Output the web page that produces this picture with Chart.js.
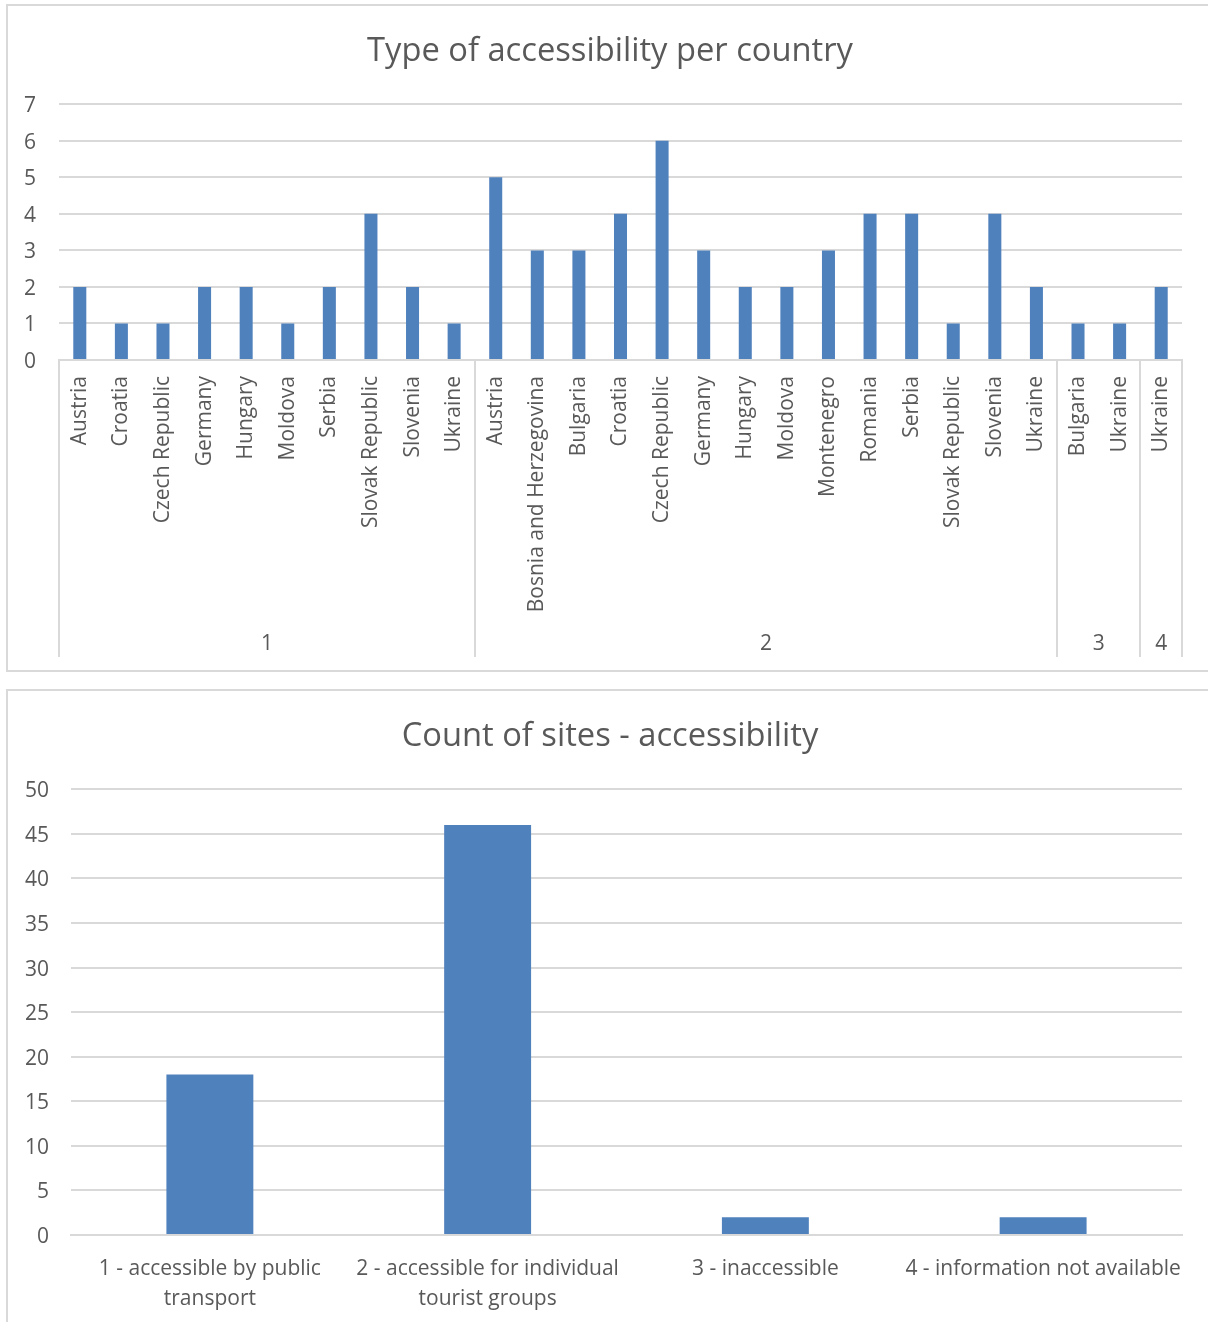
<!DOCTYPE html>
<html>
<head>
<meta charset="utf-8">
<title>Accessibility of sites</title>
<script src="https://cdn.jsdelivr.net/npm/chart.js@4"></script>
<style>
  html, body { margin: 0; padding: 0; background: #ffffff; overflow: hidden; }
  body { width: 1208px; height: 1322px; position: relative; }
  .frame { position: absolute; box-sizing: border-box; border: 2px solid #d9d9d9; background: #ffffff; }
  #frameTop { left: 6px; top: 4px; width: 1230px; height: 668px; }
  #frameBottom { left: 6px; top: 689px; width: 1230px; height: 700px; }
  canvas { position: absolute; left: 0; }
  #typeChart { top: 0; }
  #countChart { top: 680px; }
</style>
</head>
<body>
<div class="frame" id="frameTop"></div>
<div class="frame" id="frameBottom"></div>
<canvas id="typeChart" width="1208" height="680"></canvas>
<canvas id="countChart" width="1208" height="642"></canvas>
<script>
// Accessibility types (outer category level)
const accessTypes = ['1', '2', '3', '4'];

// Countries and number of sites for each accessibility type
const countriesType1 = ['Austria', 'Croatia', 'Czech Republic', 'Germany', 'Hungary', 'Moldova', 'Serbia', 'Slovak Republic', 'Slovenia', 'Ukraine'];
const sitesType1 = [2, 1, 1, 2, 2, 1, 2, 4, 2, 1];

const countriesType2 = ['Austria', 'Bosnia and Herzegovina', 'Bulgaria', 'Croatia', 'Czech Republic', 'Germany', 'Hungary', 'Moldova', 'Montenegro', 'Romania', 'Serbia', 'Slovak Republic', 'Slovenia', 'Ukraine'];
const sitesType2 = [5, 3, 3, 4, 6, 3, 2, 2, 3, 4, 4, 1, 4, 2];

const countriesType3 = ['Bulgaria', 'Ukraine'];
const sitesType3 = [1, 1];

const countriesType4 = ['Ukraine'];
const sitesType4 = [2];

// Totals per accessibility type
const accessCategories = [
  ['1 - accessible by public', 'transport'],
  ['2 - accessible for individual', 'tourist groups'],
  '3 - inaccessible',
  '4 - information not available'
];
const siteCounts = [18, 46, 2, 2];

// Flatten the two-level axis for the library
const countryGroups = [countriesType1, countriesType2, countriesType3, countriesType4];
const valueGroups = [sitesType1, sitesType2, sitesType3, sitesType4];
const countryLabels = countryGroups.flat();
const countryValues = valueGroups.flat();

const TEXT = '#595959';
const GRID = '#d9d9d9';
const BAR = '#4f81bd';
const FONT = 'Open Sans';

// Centre the title over the whole chart frame rather than the padded layout box
const frameTitlePlugin = {
  id: 'frameTitle',
  afterLayout(chart) {
    if (chart.titleBlock) {
      chart.titleBlock.left = 38;
      chart.titleBlock.right = 1182;
    }
  }
};

// Draws the outer category level (accessibility type) under the country labels
const groupAxisPlugin = {
  id: 'groupAxis',
  afterDraw(chart) {
    const x = chart.scales.x;
    const ctx = chart.ctx;
    const half = (x.getPixelForValue(1) - x.getPixelForValue(0)) / 2;
    const top = x.top;
    const bottom = x.top + 297;
    ctx.save();
    ctx.strokeStyle = GRID;
    ctx.lineWidth = 2;
    ctx.fillStyle = TEXT;
    ctx.font = '21px "' + FONT + '"';
    ctx.textAlign = 'center';
    ctx.textBaseline = 'middle';
    let start = 0;
    const edges = [x.left];
    countryGroups.forEach((g, gi) => {
      const end = start + g.length;
      const right = gi === countryGroups.length - 1 ? x.right : x.getPixelForValue(end) - half;
      edges.push(right);
      const left = edges[gi];
      ctx.fillText(accessTypes[gi], (left + right) / 2, x.top + 284);
      start = end;
    });
    edges.forEach(px => {
      const p = Math.round(px);
      ctx.beginPath();
      ctx.moveTo(p, top);
      ctx.lineTo(p, bottom);
      ctx.stroke();
    });
    ctx.restore();
  }
};

new Chart(document.getElementById('typeChart'), {
  type: 'bar',
  data: {
    labels: countryLabels,
    datasets: [{
      data: countryValues,
      backgroundColor: BAR,
      borderWidth: 0,
      barPercentage: 0.313,
      categoryPercentage: 1
    }]
  },
  options: {
    responsive: false,
    animation: false,
    layout: { padding: { left: 14, right: 26, top: 0, bottom: 0 } },
    plugins: {
      legend: { display: false },
      tooltip: { enabled: false },
      title: {
        display: true,
        text: 'Type of accessibility per country',
        color: TEXT,
        font: { family: FONT, size: 32.7, weight: 'normal', lineHeight: 1.2 },
        padding: { top: 32, bottom: 33 }
      }
    },
    scales: {
      x: {
        grid: { display: false },
        border: { display: true, color: GRID, width: 2 },
        ticks: {
          autoSkip: false,
          minRotation: 90,
          maxRotation: 90,
          padding: 8,
          color: TEXT,
          font: { family: FONT, size: 21 }
        },
        afterFit(scale) { scale.height = 320; }
      },
      y: {
        min: 0,
        max: 7,
        ticks: { stepSize: 1, padding: 23, labelOffset: 2, color: TEXT, font: { family: FONT, size: 21 } },
        grid: { color: GRID, lineWidth: 2, drawTicks: false },
        border: { display: false },
        afterFit(scale) { scale.width = 45; }
      }
    }
  },
  plugins: [frameTitlePlugin, groupAxisPlugin]
});

new Chart(document.getElementById('countChart'), {
  type: 'bar',
  data: {
    labels: accessCategories,
    datasets: [{
      data: siteCounts,
      backgroundColor: BAR,
      borderWidth: 0,
      barPercentage: 0.313,
      categoryPercentage: 1
    }]
  },
  options: {
    responsive: false,
    animation: false,
    layout: { padding: { left: 14, right: 26, top: 0, bottom: 0 } },
    plugins: {
      legend: { display: false },
      tooltip: { enabled: false },
      title: {
        display: true,
        text: 'Count of sites - accessibility',
        color: TEXT,
        font: { family: FONT, size: 32.7, weight: 'normal', lineHeight: 1.2 },
        padding: { top: 36.8, bottom: 33.3 }
      }
    },
    scales: {
      x: {
        grid: { display: false },
        border: { display: true, color: GRID, width: 2 },
        ticks: {
          autoSkip: false,
          maxRotation: 0,
          padding: 11,
          color: TEXT,
          font: { family: FONT, size: 21, lineHeight: 1.43 }
        },
        afterFit(scale) { scale.height = 87; }
      },
      y: {
        min: 0,
        max: 50,
        ticks: { stepSize: 5, padding: 22, labelOffset: 2, color: TEXT, font: { family: FONT, size: 21 } },
        grid: { color: GRID, lineWidth: 2, drawTicks: false },
        border: { display: false },
        afterFit(scale) { scale.width = 57; }
      }
    }
  },
  plugins: [frameTitlePlugin]
});
</script>
</body>
</html>
